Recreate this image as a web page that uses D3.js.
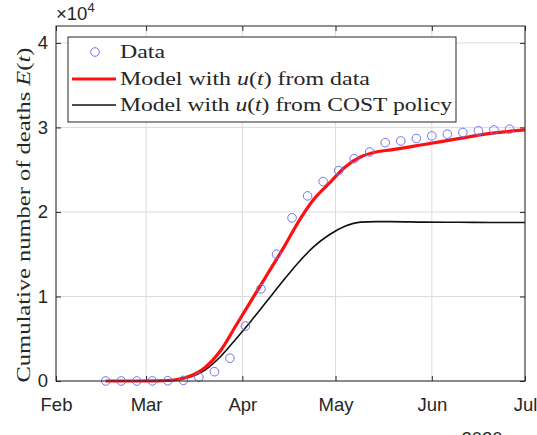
<!DOCTYPE html>
<html>
<head>
<meta charset="utf-8">
<script src="https://cdn.jsdelivr.net/npm/d3@7"></script>
<style>
  body { margin: 0; background: #fff; }
  svg { display: block; }
</style>
</head>
<body>
<div id="chart"></div>
<script>
// tick labels of the date axis
const monthTicks = ["2020-02-01", "2020-03-01", "2020-04-01", "2020-05-01", "2020-06-01", "2020-07-01"];
const monthLabels = ["Feb", "Mar", "Apr", "May", "Jun", "Jul"];
const yTicks = [0, 10000, 20000, 30000, 40000];
const yTickLabels = ["0", "1", "2", "3", "4"];

// observed cumulative deaths (every 5 days)
const dataDates = ["2020-02-17", "2020-02-22", "2020-02-27", "2020-03-03", "2020-03-08", "2020-03-13",
  "2020-03-18", "2020-03-23", "2020-03-28", "2020-04-02", "2020-04-07", "2020-04-12", "2020-04-17",
  "2020-04-22", "2020-04-27", "2020-05-02", "2020-05-07", "2020-05-12", "2020-05-17", "2020-05-22",
  "2020-05-27", "2020-06-01", "2020-06-06", "2020-06-11", "2020-06-16", "2020-06-21", "2020-06-26"];
const dataDeaths = [0, 0, 0, 10, 30, 80, 450, 1100, 2700, 6500, 10900, 15000, 19300, 21900, 23600,
  24900, 26300, 27100, 28200, 28400, 28700, 29000, 29200, 29400, 29600, 29700, 29800];

// model curves, sampled
const modelDates = ["2020-02-17", "2020-02-27", "2020-03-05", "2020-03-10", "2020-03-15", "2020-03-20",
  "2020-03-25", "2020-03-30", "2020-04-04", "2020-04-09", "2020-04-14", "2020-04-19", "2020-04-24",
  "2020-04-29", "2020-05-04", "2020-05-09", "2020-05-14", "2020-05-19", "2020-05-29", "2020-06-10",
  "2020-06-20", "2020-07-01"];
const modelData = [0, 0, 20, 120, 550, 1600, 3600, 6600, 9600, 12600, 15600, 18800, 21500, 23400,
  25300, 26500, 27100, 27350, 27950, 28700, 29300, 29700];
const modelCost = [0, 0, 20, 100, 450, 1300, 2900, 5000, 7200, 9500, 11800, 14000, 15900, 17300,
  18300, 18800, 18850, 18850, 18800, 18780, 18760, 18750];

const width = 537, height = 435;
const plot = { left: 56, right: 525, top: 26, bottom: 381 };
const axisColor = "#262626";
const serif = "'Liberation Serif', 'DejaVu Serif', serif";
const sans = "'Liberation Sans', Arial, sans-serif";
const tickFont = 18.5;

const parse = d3.utcParse("%Y-%m-%d");

const svg = d3.select("#chart")
  .append("svg")
  .attr("width", width)
  .attr("height", height);

const x = d3.scaleUtc()
  .domain([parse("2020-02-01"), parse("2020-07-01")])
  .range([plot.left, plot.right]);

const y = d3.scaleLinear()
  .domain([0, 42000])
  .range([plot.bottom, plot.top]);

const xTickDates = monthTicks.map(parse);

// griglia
const grid = svg.append("g").attr("stroke", "#dcdcdc").attr("stroke-width", 1);
grid.selectAll("line.gx")
  .data(xTickDates)
  .enter().append("line")
  .attr("x1", d => x(d)).attr("x2", d => x(d))
  .attr("y1", plot.top).attr("y2", plot.bottom);
grid.selectAll("line.gy")
  .data(yTicks)
  .enter().append("line")
  .attr("x1", plot.left).attr("x2", plot.right)
  .attr("y1", d => y(d)).attr("y2", d => y(d));

// axes with inward ticks on all four sides
const tickLen = 5;
const xBottom = d3.axisBottom(x).tickValues(xTickDates).tickSizeInner(-tickLen).tickSizeOuter(0)
  .tickFormat((d, i) => monthLabels[i]).tickPadding(17);
const xTop = d3.axisTop(x).tickValues(xTickDates).tickSizeInner(-tickLen).tickSizeOuter(0).tickFormat("");
const yLeft = d3.axisLeft(y).tickValues(yTicks).tickSizeInner(-tickLen).tickSizeOuter(0)
  .tickFormat((d, i) => yTickLabels[i]).tickPadding(8);
const yRight = d3.axisRight(y).tickValues(yTicks).tickSizeInner(-tickLen).tickSizeOuter(0).tickFormat("");

function styleAxis(g) {
  g.attr("font-size", tickFont).attr("font-family", sans);
  g.select(".domain").remove();
  g.selectAll(".tick line").attr("stroke", axisColor);
  g.selectAll(".tick text").attr("fill", axisColor);
}

svg.append("g").attr("transform", `translate(0,${plot.bottom})`).call(xBottom).call(styleAxis);
svg.append("g").attr("transform", `translate(0,${plot.top})`).call(xTop).call(styleAxis);
svg.append("g").attr("transform", `translate(${plot.left},0)`).call(yLeft).call(styleAxis);
svg.append("g").attr("transform", `translate(${plot.right},0)`).call(yRight).call(styleAxis);

// curve
const line = d3.line()
  .x(d => x(d.date))
  .y(d => y(d.value))
  .curve(d3.curveMonotoneX);

const costSeries = modelDates.map((d, i) => ({ date: parse(d), value: modelCost[i] }));
const dataSeries = modelDates.map((d, i) => ({ date: parse(d), value: modelData[i] }));

svg.append("path")
  .datum(costSeries)
  .attr("fill", "none")
  .attr("stroke", "#111")
  .attr("stroke-width", 1.6)
  .attr("d", line);

svg.append("path")
  .datum(dataSeries)
  .attr("fill", "none")
  .attr("stroke", "#ff1010")
  .attr("stroke-width", 3.2)
  .attr("d", line);

svg.append("g")
  .selectAll("circle")
  .data(dataDates.map((d, i) => ({ date: parse(d), value: dataDeaths[i] })))
  .enter().append("circle")
  .attr("cx", d => x(d.date))
  .attr("cy", d => y(d.value))
  .attr("r", 4.3)
  .attr("fill", "none")
  .attr("stroke", "#7373ee")
  .attr("stroke-width", 1);

// box
svg.append("rect")
  .attr("x", plot.left).attr("y", plot.top)
  .attr("width", plot.right - plot.left).attr("height", plot.bottom - plot.top)
  .attr("fill", "none").attr("stroke", axisColor).attr("stroke-width", 1);

// x10^4 exponent
const expo = svg.append("text")
  .attr("x", 56).attr("y", 20)
  .attr("fill", axisColor)
  .attr("font-family", sans).attr("font-size", tickFont);
expo.append("tspan").text("\u00d710");
expo.append("tspan").attr("dy", -8).attr("font-size", 13).text("4");

// 2020 under the axis
svg.append("text")
  .attr("x", 482).attr("y", 445)
  .attr("text-anchor", "middle")
  .attr("fill", axisColor)
  .attr("font-family", sans).attr("font-size", tickFont)
  .text("2020");

// serif text with italic math parts
function mathText(g, parts) {
  parts.forEach(p => {
    g.append("tspan").style("font-style", p.i ? "italic" : "normal").text(p.t);
  });
  return g;
}

// y label
const ylab = svg.append("text")
  .attr("transform", "translate(30,215) rotate(-90)")
  .attr("text-anchor", "middle")
  .attr("fill", axisColor)
  .style("font-family", serif).style("font-size", "18px");
mathText(ylab, [{ t: "Cumulative number of deaths " }, { t: "E", i: true }, { t: "(" }, { t: "t", i: true }, { t: ")" }]);
ylab.attr("textLength", 335).attr("lengthAdjust", "spacingAndGlyphs");

// legend
const legend = svg.append("g");
legend.append("rect")
  .attr("x", 68).attr("y", 37).attr("width", 388).attr("height", 85)
  .attr("fill", "#fff").attr("stroke", axisColor).attr("stroke-width", 1);

const legendRows = [
  { y: 52, parts: [{ t: "Data" }], len: 45 },
  { y: 79, parts: [{ t: "Model with " }, { t: "u", i: true }, { t: "(" }, { t: "t", i: true }, { t: ") from data" }], len: 250 },
  { y: 105, parts: [{ t: "Model with " }, { t: "u", i: true }, { t: "(" }, { t: "t", i: true }, { t: ") from COST policy" }], len: 332 }
];

legend.append("circle")
  .attr("cx", 95).attr("cy", legendRows[0].y)
  .attr("r", 4.3).attr("fill", "none").attr("stroke", "#7373ee").attr("stroke-width", 1);
legend.append("line")
  .attr("x1", 72).attr("x2", 116).attr("y1", legendRows[1].y).attr("y2", legendRows[1].y)
  .attr("stroke", "#ff1010").attr("stroke-width", 3.2);
legend.append("line")
  .attr("x1", 72).attr("x2", 116).attr("y1", legendRows[2].y).attr("y2", legendRows[2].y)
  .attr("stroke", "#111").attr("stroke-width", 1.6);

legendRows.forEach(r => {
  const t = legend.append("text")
    .attr("x", 120).attr("y", r.y + 6)
    .attr("fill", axisColor)
    .style("font-family", serif).style("font-size", "18px");
  mathText(t, r.parts);
  t.attr("textLength", r.len).attr("lengthAdjust", "spacingAndGlyphs");
});
</script>
</body>
</html>
